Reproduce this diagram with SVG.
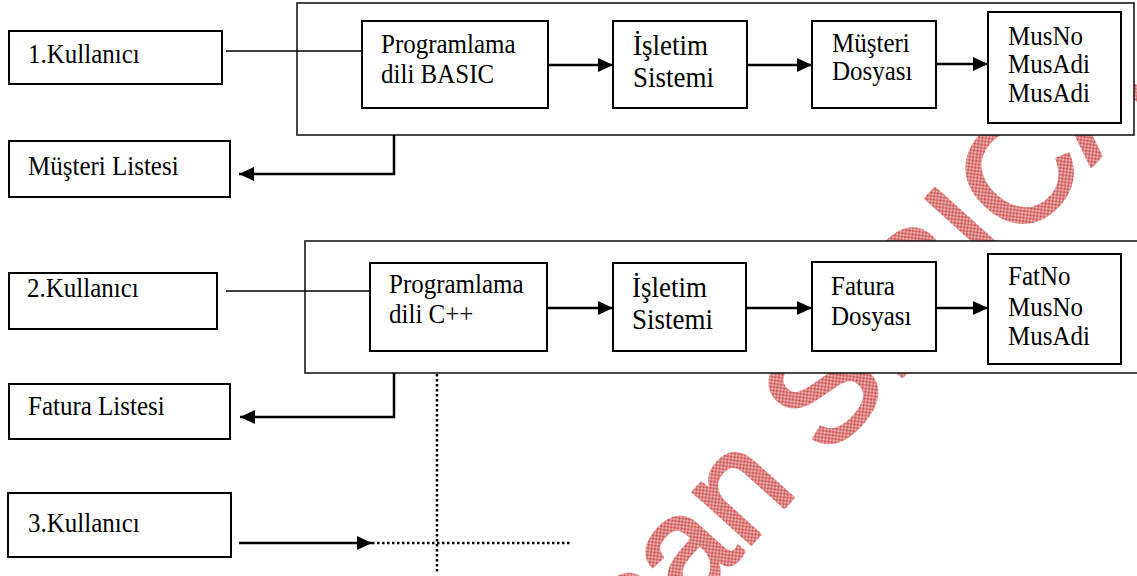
<svg xmlns="http://www.w3.org/2000/svg" width="1137" height="576" viewBox="0 0 1137 576">
<style>
.t{font-family:"Liberation Serif","Times New Roman",serif;font-size:25px;fill:#000}
.tb{font-size:27px}
.box{fill:#fff;stroke:#000;stroke-width:2}
.outer{fill:#fff;stroke:#1a1a1a;stroke-width:1.6}
.thin{fill:none;stroke:#000;stroke-width:1.5}
.arr{fill:none;stroke:#000;stroke-width:2.5;marker-end:url(#ah)}
.ret{fill:none;stroke:#000;stroke-width:2.5;marker-end:url(#ah)}
.dot{fill:none;stroke:#000;stroke-width:2.5;stroke-dasharray:2.5 2.5}
.wm{font-family:"Liberation Sans",Arial,sans-serif;font-size:148px;fill:url(#chk);stroke:url(#chk);stroke-width:3;stroke-linejoin:round}
</style>
<defs>
<marker id="ah" markerUnits="userSpaceOnUse" markerWidth="16" markerHeight="16" refX="15" refY="7" orient="auto">
<path d="M0,0 L15,7 L0,14 z" fill="#000"/>
</marker>
<pattern id="chk" patternUnits="userSpaceOnUse" width="2" height="2">
<rect width="2" height="2" fill="#f2d0d0"/>
<rect width="1" height="1" fill="#c83838"/>
<rect x="1" y="1" width="1" height="1" fill="#c83838"/>
</pattern>
</defs>
<rect width="1137" height="576" fill="#fff"/>
<g id="watermark">
<text class="wm" transform="translate(640,668) rotate(-48)">san SIRICA</text>
</g>
<g id="frame1"><rect class="outer" x="297" y="3" width="837" height="132"/></g>
<g id="frame2"><rect class="outer" x="305" y="241" width="840" height="132"/></g>
<g id="connectors">
<line class="thin" x1="226" y1="51" x2="369" y2="51"/>
<line class="arr" x1="548" y1="65" x2="613" y2="65"/>
<line class="arr" x1="747" y1="65" x2="812" y2="65"/>
<line class="arr" x1="936" y1="64" x2="988" y2="64"/>
<polyline class="ret" points="394,135 394,174 239,174"/>
<line class="thin" x1="226" y1="291" x2="370" y2="291"/>
<line class="arr" x1="547" y1="308" x2="613" y2="308"/>
<line class="arr" x1="746" y1="308" x2="812" y2="308"/>
<line class="arr" x1="936" y1="308" x2="988" y2="308"/>
<polyline class="ret" points="394,373 394,417 240,417"/>
<line class="dot" x1="437" y1="374" x2="437" y2="574"/>
<line class="arr" x1="239" y1="543" x2="372" y2="543"/>
<line class="dot" x1="372" y1="543" x2="570" y2="543"/>
</g>
<g id="k1"><rect class="box" x="9" y="31" width="213" height="53"/><text class="t" transform="translate(28 63) scale(1 1.1)">1.Kullanıcı</text></g>
<g id="ml"><rect class="box" x="9" y="141" width="221" height="56"/><text class="t" transform="translate(28 175) scale(1 1.1)">Müşteri Listesi</text></g>
<g id="pb"><rect class="box" x="362" y="21" width="186" height="87"/><text class="t" transform="translate(381 53) scale(1 1.1)">Programlama</text><text class="t" transform="translate(381 83) scale(1 1.1)">dili BASIC</text></g>
<g id="is1"><rect class="box" x="613" y="21" width="134" height="87"/><text class="t tb" transform="translate(633 55) scale(1 1.1)">İşletim</text><text class="t tb" transform="translate(633 87) scale(1 1.1)">Sistemi</text></g>
<g id="md"><rect class="box" x="812" y="21" width="124" height="87"/><text class="t" transform="translate(832 52) scale(1 1.1)">Müşteri</text><text class="t" transform="translate(832 80) scale(1 1.1)">Dosyası</text></g>
<g id="mf"><rect class="box" x="988" y="12" width="133" height="111"/><text class="t" transform="translate(1008 45) scale(1 1.1)">MusNo</text><text class="t" transform="translate(1008 73) scale(1 1.1)">MusAdi</text><text class="t" transform="translate(1008 102) scale(1 1.1)">MusAdi</text></g>
<g id="k2"><rect class="box" x="9" y="273" width="208" height="56"/><text class="t" transform="translate(27 297) scale(1 1.1)">2.Kullanıcı</text></g>
<g id="fl"><rect class="box" x="9" y="384" width="221" height="55"/><text class="t" transform="translate(28 415) scale(1 1.1)">Fatura Listesi</text></g>
<g id="pc"><rect class="box" x="370" y="263" width="177" height="88"/><text class="t" transform="translate(389 293) scale(1 1.1)">Programlama</text><text class="t" transform="translate(389 323) scale(1 1.1)">dili C++</text></g>
<g id="is2"><rect class="box" x="613" y="263" width="133" height="88"/><text class="t tb" transform="translate(632 297) scale(1 1.1)">İşletim</text><text class="t tb" transform="translate(632 329) scale(1 1.1)">Sistemi</text></g>
<g id="fd"><rect class="box" x="812" y="262" width="124" height="89"/><text class="t" transform="translate(831 295) scale(1 1.1)">Fatura</text><text class="t" transform="translate(831 325) scale(1 1.1)">Dosyası</text></g>
<g id="ff"><rect class="box" x="988" y="254" width="133" height="110"/><text class="t" transform="translate(1008 285) scale(1 1.1)">FatNo</text><text class="t" transform="translate(1008 316) scale(1 1.1)">MusNo</text><text class="t" transform="translate(1008 345) scale(1 1.1)">MusAdi</text></g>
<g id="k3"><rect class="box" x="8" y="493" width="223" height="64"/><text class="t" transform="translate(28 532) scale(1 1.1)">3.Kullanıcı</text></g>
</svg>
